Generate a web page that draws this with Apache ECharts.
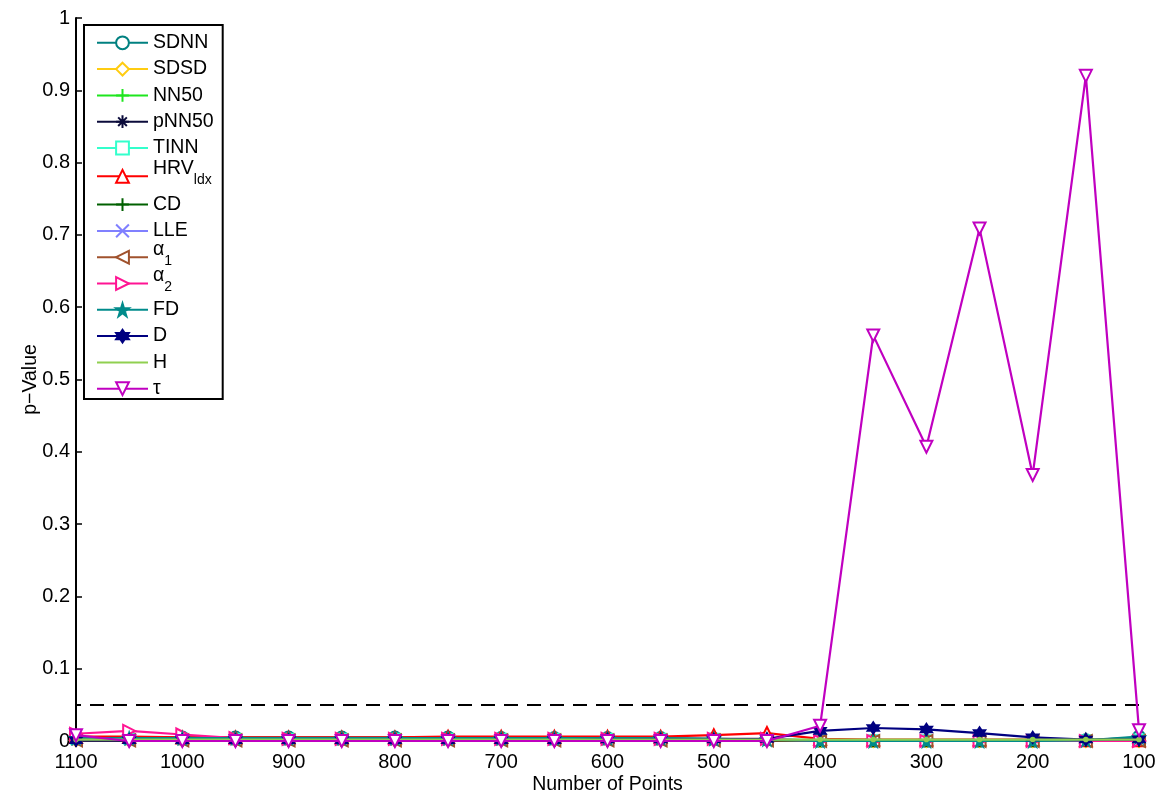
<!DOCTYPE html>
<html>
<head>
<meta charset="utf-8">
<script src="https://cdn.jsdelivr.net/npm/echarts@6/dist/echarts.min.js"></script>
<style>
  html, body { margin: 0; padding: 0; background: #fff; }
  #chart { width: 1168px; height: 798px; }
</style>
</head>
<body>
<div id="chart"></div>
<script>
// Number of points in each analysis window (x axis runs from 1100 down to 100)
const pointCounts = [1100, 1050, 1000, 950, 900, 850, 800, 750, 700, 650, 600, 550, 500, 450, 400, 350, 300, 250, 200, 150, 100];

// p-values per HRV measure
const sdnn   = [0.004, 0.005, 0.005, 0.005, 0.005, 0.005, 0.005, 0.005, 0.004, 0.004, 0.004, 0.004, 0.003, 0.002, 0.000, 0.000, 0.000, 0.000, 0.000, 0.001, 0.006];
const sdsd   = [0.001, 0.001, 0.001, 0.001, 0.001, 0.001, 0.001, 0.001, 0.001, 0.001, 0.001, 0.001, 0.001, 0.001, 0.000, 0.000, 0.000, 0.000, 0.000, 0.000, 0.000];
const nn50   = [0.002, 0.002, 0.002, 0.002, 0.002, 0.002, 0.002, 0.002, 0.002, 0.002, 0.002, 0.002, 0.002, 0.002, 0.001, 0.001, 0.001, 0.001, 0.001, 0.001, 0.001];
const pnn50  = [0.000, 0.000, 0.000, 0.000, 0.000, 0.000, 0.000, 0.000, 0.000, 0.000, 0.000, 0.000, 0.000, 0.000, 0.000, 0.000, 0.000, 0.000, 0.000, 0.000, 0.000];
const tinn   = [0.003, 0.003, 0.003, 0.003, 0.003, 0.003, 0.003, 0.003, 0.003, 0.003, 0.003, 0.003, 0.003, 0.003, 0.001, 0.001, 0.001, 0.001, 0.001, 0.001, 0.002];
const hrvIdx = [0.006, 0.006, 0.005, 0.005, 0.005, 0.005, 0.005, 0.006, 0.006, 0.006, 0.006, 0.006, 0.008, 0.011, 0.003, 0.002, 0.002, 0.002, 0.002, 0.001, 0.001];
const cd     = [0.001, 0.001, 0.001, 0.001, 0.001, 0.001, 0.001, 0.001, 0.001, 0.001, 0.001, 0.001, 0.001, 0.001, 0.000, 0.000, 0.000, 0.000, 0.000, 0.000, 0.000];
const lle    = [0.002, 0.002, 0.002, 0.002, 0.002, 0.002, 0.002, 0.002, 0.002, 0.002, 0.002, 0.002, 0.002, 0.002, 0.001, 0.001, 0.001, 0.001, 0.001, 0.001, 0.001];
const alpha1 = [0.001, 0.001, 0.001, 0.001, 0.001, 0.001, 0.001, 0.001, 0.001, 0.001, 0.001, 0.001, 0.001, 0.001, 0.000, 0.000, 0.000, 0.000, 0.000, 0.000, 0.000];
const alpha2 = [0.010, 0.014, 0.009, 0.004, 0.003, 0.003, 0.003, 0.003, 0.003, 0.003, 0.003, 0.003, 0.003, 0.003, 0.000, 0.000, 0.000, 0.000, 0.000, 0.000, 0.000];
const fd     = [0.004, 0.004, 0.004, 0.004, 0.004, 0.004, 0.004, 0.004, 0.004, 0.004, 0.004, 0.004, 0.003, 0.002, 0.000, 0.000, 0.000, 0.000, 0.000, 0.001, 0.005];
const dVals  = [0.001, 0.001, 0.001, 0.001, 0.001, 0.001, 0.001, 0.001, 0.001, 0.001, 0.002, 0.002, 0.002, 0.003, 0.014, 0.018, 0.016, 0.011, 0.005, 0.002, 0.002];
const hVals  = [0.002, 0.002, 0.002, 0.002, 0.002, 0.002, 0.002, 0.002, 0.002, 0.002, 0.002, 0.002, 0.002, 0.002, 0.002, 0.002, 0.002, 0.002, 0.002, 0.002, 0.002];
const tau    = [0.008, 0.000, 0.000, 0.000, 0.000, 0.000, 0.000, 0.000, 0.000, 0.000, 0.000, 0.000, 0.000, 0.000, 0.021, 0.561, 0.407, 0.709, 0.368, 0.920, 0.015];

// Significance threshold
const alphaLevel = 0.05;

// Axis ticks
const yTicks = [0, 0.1, 0.2, 0.3, 0.4, 0.5, 0.6, 0.7, 0.8, 0.9, 1];

// Marker shapes
const PLUS = 'path://M5,0L5,10M0,5L10,5';
const ASTERISK = 'path://M5,0L5,10M0,5L10,5M1.6,1.6L8.4,8.4M8.4,1.6L1.6,8.4';
const CROSS = 'path://M1,1L9,9M9,1L1,9';
const PENTAGRAM = 'path://M5,0L6.123,3.455L9.755,3.455L6.817,5.59L7.939,9.045L5,6.91L2.061,9.045L3.183,5.59L0.245,3.455L3.877,3.455Z';
const HEXAGRAM = 'path://M5,0L9.33,7.5L0.67,7.5Z M5,10L0.67,2.5L9.33,2.5Z';

const FONT = 'Liberation Sans, Arial, Helvetica, sans-serif';

const seriesDefs = [
  { name: 'SDNN',   data: sdnn,   color: '#008080', symbol: 'emptyCircle' },
  { name: 'SDSD',   data: sdsd,   color: '#FFCC11', symbol: 'emptyDiamond' },
  { name: 'NN50',   data: nn50,   color: '#1EE61E', symbol: PLUS, stroke: true },
  { name: 'pNN50',  data: pnn50,  color: '#0B0B3B', symbol: ASTERISK, stroke: true },
  { name: 'TINN',   data: tinn,   color: '#33FFCC', symbol: 'emptyRect', size: 10 },
  { name: 'HRVldx', data: hrvIdx, color: '#FF0000', symbol: 'emptyTriangle' },
  { name: 'CD',     data: cd,     color: '#006000', symbol: PLUS, stroke: true },
  { name: 'LLE',    data: lle,    color: '#8080FF', symbol: CROSS, stroke: true, size: 8 },
  { name: 'α1',     data: alpha1, color: '#A0522D', symbol: 'emptyTriangle', rotate: 90 },
  { name: 'α2',     data: alpha2, color: '#FF1493', symbol: 'emptyTriangle', rotate: -90 },
  { name: 'FD',     data: fd,     color: '#008B8B', symbol: PENTAGRAM },
  { name: 'D',      data: dVals,  color: '#000080', symbol: HEXAGRAM },
  { name: 'H',      data: hVals,  color: '#90D050', symbol: 'circle', size: 4, noLegendMarker: true },
  { name: 'τ',      data: tau,    color: '#C000C0', symbol: 'emptyTriangle', rotate: 180 }
];

const series = seriesDefs.map((s, i) => {
  const item = {
    name: s.name,
    type: 'line',
    data: pointCounts.map((x, k) => [x, s.data[k]]),
    symbol: s.symbol,
    symbolSize: s.size || 12,
    symbolRotate: s.rotate || 0,
    showAllSymbol: true,
    lineStyle: { color: s.color, width: 2.2 },
    itemStyle: {
      color: s.color,
      borderColor: s.color,
      borderWidth: s.stroke ? 2 : 1.6
    },
    emphasis: { disabled: true },
    z: 2 + i
  };
  if (i === 0) {
    // dashed significance line at p = 0.05
    item.markLine = {
      silent: true,
      symbol: ['none', 'none'],
      label: { show: false },
      lineStyle: { color: '#000', type: [14, 9], width: 2 },
      data: [{ yAxis: alphaLevel }]
    };
  }
  return item;
});

// Legend labels with subscripts
const legendLabels = {
  'HRVldx': '{m|HRV}{s|ldx}',
  'α1': '{am|α}{as|1}',
  'α2': '{am|α}{as|2}'
};

const legendData = seriesDefs.map(s => s.noLegendMarker
  ? { name: s.name, itemStyle: { color: 'rgba(0,0,0,0)', borderColor: 'rgba(0,0,0,0)', borderWidth: 0 } }
  : { name: s.name });

// Legend rows: each label sits in a tall line box so subscripted rows share the same row pitch
const ROW = 40;
const ROW_SUB = 44;

const chart = echarts.init(document.getElementById('chart'), null, { renderer: 'canvas' });
chart.setOption({
  animation: false,
  backgroundColor: '#fff',
  grid: { left: 76, right: 29, top: 18, bottom: 57, containLabel: false, outerBoundsMode: 'none' },
  xAxis: {
    type: 'value',
    inverse: true,
    min: 100,
    max: 1100,
    interval: 100,
    name: 'Number of Points',
    nameLocation: 'middle',
    nameGap: 34,
    nameMoveOverlap: false,
    nameTextStyle: { fontFamily: FONT, fontSize: 19.5, color: '#000' },
    axisLine: { show: true, onZero: false, lineStyle: { color: '#000', width: 2 } },
    axisTick: { show: true, inside: true, length: 6, lineStyle: { color: '#000', width: 1.5 } },
    axisLabel: { fontFamily: FONT, fontSize: 20, color: '#000', margin: 11, formatter: v => String(v) },
    splitLine: { show: false }
  },
  yAxis: {
    type: 'value',
    min: 0,
    max: 1,
    interval: 0.1,
    name: 'p−Value',
    nameLocation: 'middle',
    nameGap: 35,
    nameMoveOverlap: false,
    nameTextStyle: { fontFamily: FONT, fontSize: 19.5, color: '#000' },
    axisLine: { show: true, lineStyle: { color: '#000', width: 2 } },
    axisTick: { show: true, inside: true, length: 6, lineStyle: { color: '#000', width: 1.5 } },
    axisLabel: {
      fontFamily: FONT, fontSize: 20, color: '#000', margin: 6,
      formatter: v => String(yTicks.reduce((a, b) => Math.abs(b - v) < Math.abs(a - v) ? b : a))
    },
    splitLine: { show: false }
  },
  legend: {
    orient: 'vertical',
    left: 84,
    top: 25,
    padding: [-2.2, 9, -9.7, 12],
    itemWidth: 51,
    itemHeight: 16,
    itemGap: 26.3 - ROW,
    backgroundColor: '#fff',
    borderColor: '#000',
    borderWidth: 2,
    borderRadius: 0,
    selectedMode: false,
    data: legendData,
    formatter: name => legendLabels[name] || name,
    textStyle: {
      fontFamily: FONT,
      fontSize: 19.5,
      color: '#000',
      lineHeight: ROW,
      rich: {
        m:  { fontFamily: FONT, fontSize: 19.5, color: '#000', lineHeight: ROW_SUB, verticalAlign: 'top', height: 2, padding: [ROW_SUB / 2 - 9, 0, 0, 0] },
        s:  { fontFamily: FONT, fontSize: 14, color: '#000', lineHeight: ROW_SUB, verticalAlign: 'top', height: 2, padding: [ROW_SUB / 2 + 3, 0, 0, 0] },
        am: { fontFamily: FONT, fontSize: 19.5, color: '#000', lineHeight: ROW, verticalAlign: 'top', height: 2, padding: [ROW / 2 - 9, 0, 0, 0] },
        as: { fontFamily: FONT, fontSize: 14, color: '#000', lineHeight: ROW, verticalAlign: 'top', height: 2, padding: [ROW / 2 + 2.7, 0, 0, 0] }
      }
    }
  },
  series: series
});
</script>
</body>
</html>
